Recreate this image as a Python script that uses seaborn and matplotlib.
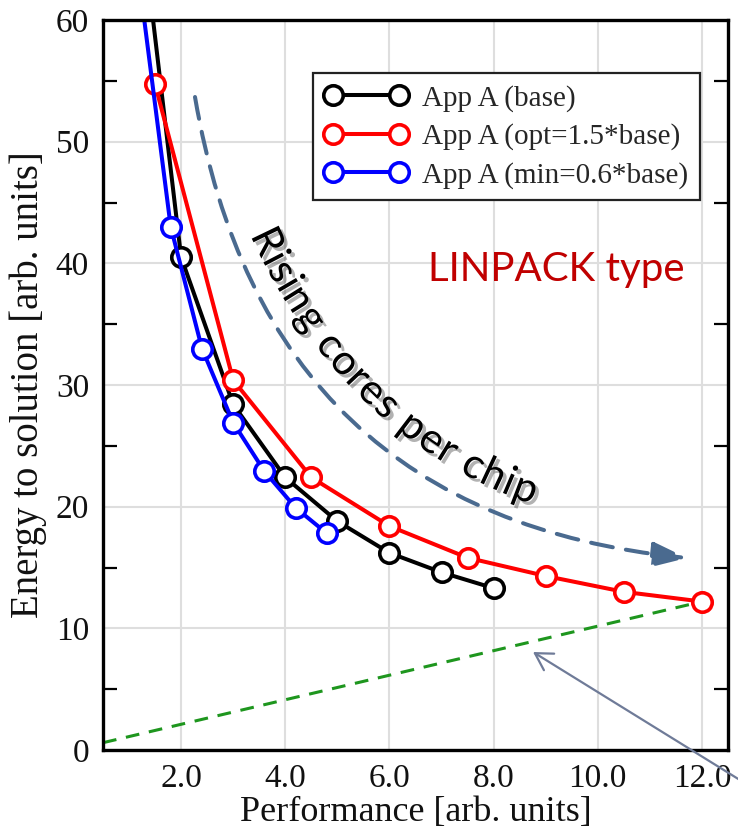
import numpy as np
import pandas as pd
import matplotlib
matplotlib.use("Agg")
import matplotlib.pyplot as plt
import seaborn as sns
import matplotlib.patheffects as pe
from matplotlib.ticker import FixedLocator
from matplotlib.font_manager import FontProperties

# ---------------- data ----------------
perf_base = [1.0, 2.0, 3.0, 4.0, 5.0, 6.0, 7.0, 8.0]
energy_base = [76.7, 40.5, 28.4, 22.4, 18.8, 16.2, 14.6, 13.3]
perf_opt = [1.5, 3.0, 4.5, 6.0, 7.5, 9.0, 10.5, 12.0]
energy_opt = [54.7, 30.4, 22.4, 18.4, 15.8, 14.3, 13.0, 12.2]
perf_min = [0.6, 1.2, 1.8, 2.4, 3.0, 3.6, 4.2, 4.8]
energy_min = [123.5, 63.1, 43.0, 33.0, 26.9, 22.9, 19.9, 17.8]
ref_x = [0.5, 12.3]
ref_y = [0.6, 12.5]

labels = ["App A (base)", "App A (opt=1.5*base)", "App A (min=0.6*base)"]
colors = ["#000000", "#ff0000", "#0000ff"]
xticks = [2, 4, 6, 8, 10, 12]
xticklabels = ["2.0", "4.0", "6.0", "8.0", "10.0", "12.0"]
yticks = [0, 10, 20, 30, 40, 50, 60]
yticklabels = ["0", "10", "20", "30", "40", "50", "60"]

# ---------------- style ----------------
sns.set_style("white")
plt.rcParams["font.family"] = ["Liberation Serif", "DejaVu Serif"]

W, H = 738, 831
fig = plt.figure(figsize=(W / 100, H / 100), dpi=100, facecolor="white")
L, R, T, B = 103, 728, 20, 750
ax = fig.add_axes([L / W, 1 - B / H, (R - L) / W, (B - T) / H])

def ax_frac(px, py):
    return ((px - L) / (R - L), (B - py) / (B - T))

# reference line (dashed green)
sns.lineplot(x=ref_x, y=ref_y, ax=ax, color="#1e961e", linewidth=2.2,
             linestyle=(0, (4.5, 3.2)), zorder=2)

for xs, ys, c, lab in zip([perf_base, perf_opt, perf_min],
                          [energy_base, energy_opt, energy_min], colors, labels):
    sns.lineplot(x=xs, y=ys, ax=ax, color=c, label=lab, marker="o",
                 markersize=14, markerfacecolor="white", markeredgecolor=c,
                 markeredgewidth=2.6, linewidth=2.9, sort=False,
                 estimator=None, zorder=3)

ax.set_xlim(0.5, 12.5)
ax.set_ylim(0, 60)
ax.set_xticks(xticks)
ax.set_xticklabels(xticklabels)
ax.set_yticks(yticks)
ax.set_yticklabels(yticklabels)
ax.yaxis.set_minor_locator(FixedLocator([5, 15, 25, 35, 45, 55]))
ax.tick_params(axis="both", which="major", length=0, labelsize=24, pad=10,
               colors="#111111")
ax.tick_params(axis="y", which="minor", direction="in", length=10, width=1.6,
               left=True, right=True, color="black")
ax.tick_params(axis="x", which="minor", bottom=False, top=False)
ax.grid(True, which="major", color="#dedede", linewidth=1.5)
ax.set_axisbelow(True)
for s in ax.spines.values():
    s.set_color("black")
    s.set_linewidth(2.4)
    s.set_zorder(5)

ax.set_xlabel("Performance [arb. units]", fontsize=26, labelpad=1, color="#111111")
ax.set_ylabel("Energy to solution [arb. units]", fontsize=28, labelpad=6,
              color="#111111")

leg = ax.legend(loc="upper right", bbox_to_anchor=ax_frac(700, 73), numpoints=2,
                prop=FontProperties(family="Liberation Serif", size=21),
                frameon=True, fancybox=False, edgecolor="#222222", framealpha=1,
                handlelength=2.85, handletextpad=0.5, labelspacing=0.4,
                borderpad=0.4, borderaxespad=0)
leg.get_frame().set_linewidth(1.6)

# ---------------- annotations ----------------
def px2data(px, py):
    fx, fy = ax_frac(px, py)
    return 0.5 + fx * 12.0, fy * 60.0

# dashed steel-blue curved arrow
ax.annotate("", xy=px2data(687, 558), xytext=px2data(195, 97),
            arrowprops=dict(arrowstyle="-|>,head_length=1.05,head_width=0.38",
                            connectionstyle="arc3,rad=0.38", color="#4a6a8f",
                            lw=2.9, linestyle=(0, (5.5, 3.3)), mutation_scale=20,
                            shrinkA=0, shrinkB=0), zorder=4)

# gray thin arrow from outside
ax.annotate("", xy=px2data(533, 652), xytext=px2data(748, 785),
            arrowprops=dict(arrowstyle="->,head_length=1.2,head_width=0.7",
                            color="#6f7b98", lw=1.6, mutation_scale=10,
                            shrinkA=0, shrinkB=0, clip_on=False),
            annotation_clip=False, zorder=6)

# LINPACK type
fx, fy = ax_frac(556, 270)
ax.text(fx, fy, "LINPACK type", transform=ax.transAxes, ha="center",
        va="center", fontsize=29, color="#c00000", family="Lato", zorder=6)

# curved "Rising cores per chip"
fig.canvas.draw()
renderer = fig.canvas.get_renderer()
fp = FontProperties(family="Lato", size=30)
text = "Rising cores per chip"
P0 = np.array([264.0, 228.0])
P1 = np.array([354.0, 425.0])
P2 = np.array([538.0, 490.0])
ts = np.linspace(0, 1, 2000)
curve = ((1 - ts)[:, None] ** 2) * P0 + (2 * ts * (1 - ts))[:, None] * P1 + (ts ** 2)[:, None] * P2
seg = np.hypot(np.diff(curve[:, 0]), np.diff(curve[:, 1]))
arc = np.concatenate([[0], np.cumsum(seg)])

def width(s):
    if not s:
        return 0.0
    w, h, d = renderer.get_text_width_height_descent(s, fp, ismath=False)
    return w

total = width(text)
scale = arc[-1] / total
shadow = [pe.SimplePatchShadow(offset=(2.5, -2.5), shadow_rgbFace="#000000", alpha=0.3),
          pe.Normal()]
for i, ch in enumerate(text):
    if ch == " ":
        continue
    start = width(text[: i + 1]) - width(ch)
    mid = (start + width(ch) / 2) * scale
    x = np.interp(mid, arc, curve[:, 0])
    y = np.interp(mid, arc, curve[:, 1])
    j = min(np.searchsorted(arc, mid), len(ts) - 2)
    dx = curve[j + 1, 0] - curve[j, 0]
    dy = curve[j + 1, 1] - curve[j, 1]
    ang = -np.degrees(np.arctan2(dy, dx))
    fx, fy = ax_frac(x, y)
    ax.text(fx, fy, ch, transform=ax.transAxes, fontproperties=fp,
            rotation=ang, rotation_mode="anchor", ha="center",
            va="center_baseline", color="black", path_effects=shadow, zorder=6)

fig.savefig("out.png", dpi=100, facecolor="white")
